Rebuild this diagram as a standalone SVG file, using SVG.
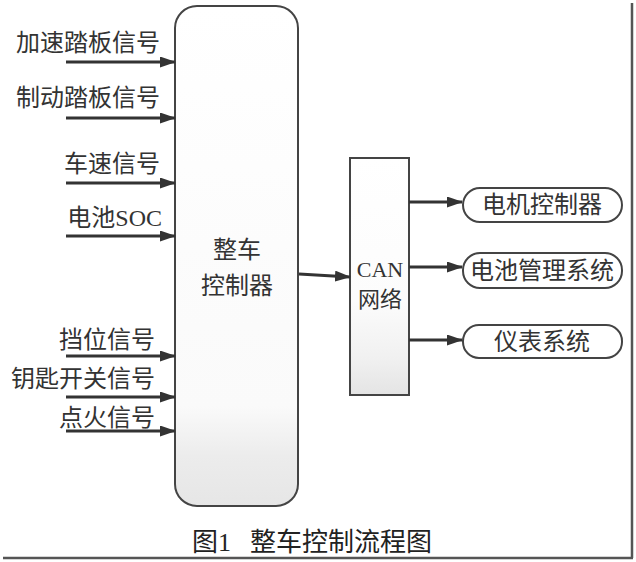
<svg xmlns="http://www.w3.org/2000/svg" width="636" height="562" viewBox="0 0 636 562">
<style>
.lbl{font-family:"Liberation Serif","Noto Sans CJK SC",serif;font-size:24px;fill:#333}
.sm{font-size:22px}
.box{stroke:#444;stroke-width:2}
.wire{stroke:#333;stroke-width:3;fill:none}
</style>
<defs>
<marker id="ah" markerWidth="16" markerHeight="11" refX="15" refY="5.5" orient="auto" markerUnits="userSpaceOnUse">
<path d="M0,0 L16,5.5 L0,11 Z" fill="#333"/>
</marker>
<linearGradient id="g1" x1="0" y1="0" x2="0" y2="1">
<stop offset="0" stop-color="#ffffff"/>
<stop offset="0.8" stop-color="#fafafa"/>
<stop offset="0.9" stop-color="#ececec"/>
<stop offset="1" stop-color="#e6e6e6"/>
</linearGradient>
<linearGradient id="g2" x1="0" y1="0" x2="0" y2="1">
<stop offset="0" stop-color="#ffffff"/>
<stop offset="0.6" stop-color="#fcfcfc"/>
<stop offset="0.85" stop-color="#f0f0f0"/>
<stop offset="1" stop-color="#e4e4e4"/>
</linearGradient>
</defs>
<rect width="636" height="562" fill="#fff"/>
<g id="frame">
<line x1="3" y1="558" x2="633" y2="558" stroke="#555" stroke-width="2.5"/>
<line x1="632" y1="3" x2="632" y2="558" stroke="#555" stroke-width="2.5"/>
</g>
<g id="vcu">
<rect class="box" x="175" y="6" width="123" height="500" rx="22" fill="url(#g1)"/>
<text class="lbl" x="237" y="258" text-anchor="middle">整车</text>
<text class="lbl" x="237" y="294" text-anchor="middle">控制器</text>
</g>
<g id="can">
<rect class="box" x="350" y="158" width="59" height="237" fill="url(#g2)"/>
<text class="lbl sm" x="380" y="277" text-anchor="middle">CAN</text>
<text class="lbl sm" x="380" y="307" text-anchor="middle">网络</text>
</g>
<g id="motor">
<rect class="box" x="463" y="188" width="159" height="34" rx="17" fill="#fff"/>
<text class="lbl" x="542" y="213" text-anchor="middle">电机控制器</text>
</g>
<g id="bms">
<rect class="box" x="463" y="253" width="159" height="35" rx="17" fill="#fff"/>
<text class="lbl" x="542" y="279" text-anchor="middle">电池管理系统</text>
</g>
<g id="dash">
<rect class="box" x="463" y="325" width="159" height="33" rx="16" fill="#fff"/>
<text class="lbl" x="542" y="350" text-anchor="middle">仪表系统</text>
</g>
<g id="inputs">
<text class="lbl" x="160" y="51" text-anchor="end">加速踏板信号</text>
<text class="lbl" x="160" y="106" text-anchor="end">制动踏板信号</text>
<text class="lbl" x="160" y="172" text-anchor="end">车速信号</text>
<text class="lbl" x="162" y="226" text-anchor="end">电池SOC</text>
<text class="lbl" x="155" y="348" text-anchor="end">挡位信号</text>
<text class="lbl" x="155" y="387" text-anchor="end">钥匙开关信号</text>
<text class="lbl" x="155" y="426" text-anchor="end">点火信号</text>
</g>
<g id="connectors">
<line class="wire" x1="66" y1="62" x2="175" y2="62" marker-end="url(#ah)"/>
<line class="wire" x1="66" y1="118" x2="175" y2="118" marker-end="url(#ah)"/>
<line class="wire" x1="66" y1="183" x2="175" y2="183" marker-end="url(#ah)"/>
<line class="wire" x1="66" y1="236" x2="175" y2="236" marker-end="url(#ah)"/>
<line class="wire" x1="66" y1="356" x2="175" y2="356" marker-end="url(#ah)"/>
<line class="wire" x1="66" y1="397" x2="175" y2="397" marker-end="url(#ah)"/>
<line class="wire" x1="66" y1="431" x2="175" y2="431" marker-end="url(#ah)"/>
<line class="wire" x1="299" y1="274" x2="350" y2="277" marker-end="url(#ah)"/>
<line class="wire" x1="409" y1="202" x2="462" y2="202" marker-end="url(#ah)"/>
<line class="wire" x1="409" y1="267" x2="462" y2="267" marker-end="url(#ah)"/>
<line class="wire" x1="409" y1="340" x2="462" y2="340" marker-end="url(#ah)"/>
</g>
<g id="caption" style="font-family:'Liberation Serif','Noto Sans CJK SC',serif;font-size:26px;fill:#222">
<text x="192" y="551">图1</text>
<text x="250" y="551">整车控制流程图</text>
</g>
</svg>
